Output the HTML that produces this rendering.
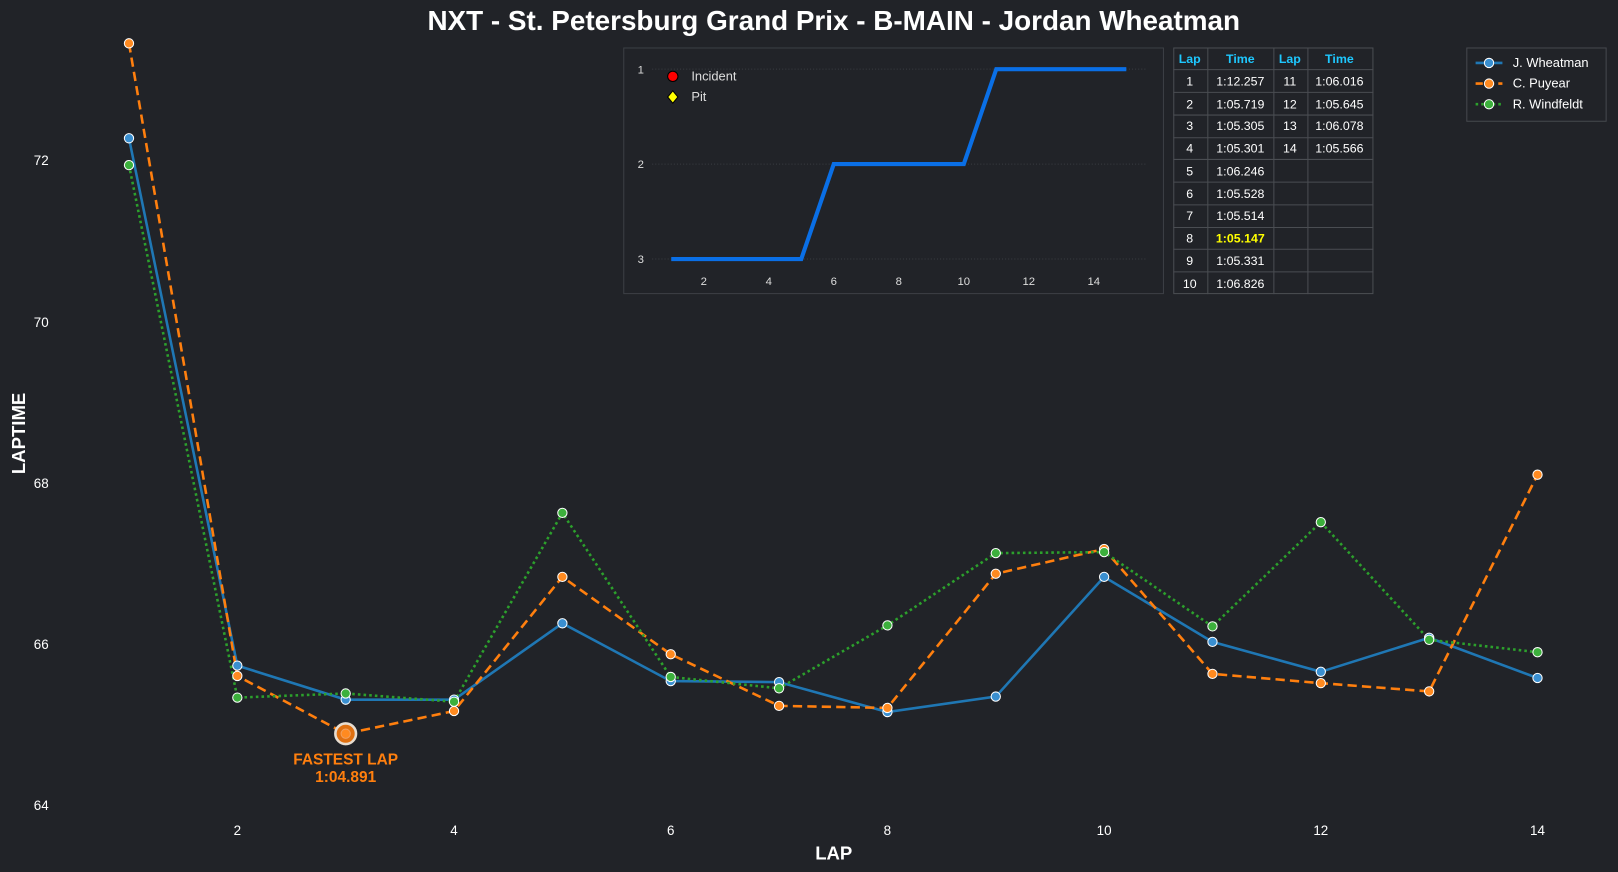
<!DOCTYPE html>
<html><head><meta charset="utf-8"><style>
html,body{margin:0;padding:0;background:#212328;}
svg{display:block;font-family:"Liberation Sans",Arial,sans-serif;}
</style></head><body>
<svg width="1618" height="872" viewBox="0 0 1568 845" preserveAspectRatio="none" xmlns="http://www.w3.org/2000/svg">
<rect width="1568" height="845" fill="#212328"/>
<text x="808" y="29" text-anchor="middle" fill="#fff" font-size="27" font-weight="bold">NXT - St. Petersburg Grand Prix - B-MAIN - Jordan Wheatman</text>
<text transform="translate(24,420) rotate(-90)" text-anchor="middle" fill="#fff" font-size="18" font-weight="bold">LAPTIME</text>
<text x="808" y="833" text-anchor="middle" fill="#fff" font-size="18" font-weight="bold">LAP</text>
<g fill="#fff" font-size="13" text-anchor="middle">
<text x="40" y="160">72</text><text x="40" y="317">70</text><text x="40" y="473">68</text><text x="40" y="629">66</text><text x="40" y="785">64</text>
<text x="230" y="809">2</text><text x="440" y="809">4</text><text x="650" y="809">6</text><text x="860" y="809">8</text><text x="1070" y="809">10</text><text x="1280" y="809">12</text><text x="1490" y="809">14</text>
</g>
<g fill="none" stroke-width="2.5">
<polyline stroke="#1f77b4" points="125,134 230,645 335,678 440,678 545,604 650,660 755,661 860,690 965,675 1070,559 1175,622 1280,651 1385,618 1490,657"/>
<polyline stroke="#ff7f0e" stroke-dasharray="9,5" points="125,42 230,655 335,711 440,689 545,559 650,634 755,684 860,686 965,556 1070,532 1175,653 1280,662 1385,670 1490,460"/>
<polyline stroke="#2ca02c" stroke-dasharray="2.5,3" points="125,160 230,676 335,672 440,680 545,497 650,656 755,667 860,606 965,536 1070,535 1175,607 1280,506 1385,620 1490,632"/>
</g>
<g stroke="#fff" stroke-width="1">
<g fill="#3a8fd0">
<circle cx="125" cy="134" r="4.5"/><circle cx="230" cy="645" r="4.5"/><circle cx="335" cy="678" r="4.5"/><circle cx="440" cy="678" r="4.5"/><circle cx="545" cy="604" r="4.5"/><circle cx="650" cy="660" r="4.5"/><circle cx="755" cy="661" r="4.5"/><circle cx="860" cy="690" r="4.5"/><circle cx="965" cy="675" r="4.5"/><circle cx="1070" cy="559" r="4.5"/><circle cx="1175" cy="622" r="4.5"/><circle cx="1280" cy="651" r="4.5"/><circle cx="1385" cy="618" r="4.5"/><circle cx="1490" cy="657" r="4.5"/></g>
<g fill="#ff8a20">
<circle cx="125" cy="42" r="4.5"/><circle cx="230" cy="655" r="4.5"/><circle cx="440" cy="689" r="4.5"/><circle cx="545" cy="559" r="4.5"/><circle cx="650" cy="634" r="4.5"/><circle cx="755" cy="684" r="4.5"/><circle cx="860" cy="686" r="4.5"/><circle cx="965" cy="556" r="4.5"/><circle cx="1070" cy="532" r="4.5"/><circle cx="1175" cy="653" r="4.5"/><circle cx="1280" cy="662" r="4.5"/><circle cx="1385" cy="670" r="4.5"/><circle cx="1490" cy="460" r="4.5"/></g>
<g fill="#3cb03c">
<circle cx="125" cy="160" r="4.5"/><circle cx="230" cy="676" r="4.5"/><circle cx="335" cy="672" r="4.5"/><circle cx="440" cy="680" r="4.5"/><circle cx="545" cy="497" r="4.5"/><circle cx="650" cy="656" r="4.5"/><circle cx="755" cy="667" r="4.5"/><circle cx="860" cy="606" r="4.5"/><circle cx="965" cy="536" r="4.5"/><circle cx="1070" cy="535" r="4.5"/><circle cx="1175" cy="607" r="4.5"/><circle cx="1280" cy="506" r="4.5"/><circle cx="1385" cy="620" r="4.5"/><circle cx="1490" cy="632" r="4.5"/></g>
</g>
<circle cx="335" cy="711" r="10" fill="#e07010" stroke="#e8ddd0" stroke-width="2.5"/>
<circle cx="335" cy="711" r="4.5" fill="#ff8a20" stroke="#f0a060" stroke-width="1"/>
<text x="335" y="741" text-anchor="middle" fill="#ff7f0e" font-size="15" font-weight="bold">FASTEST LAP</text>
<text x="335" y="758" text-anchor="middle" fill="#ff7f0e" font-size="15" font-weight="bold">1:04.891</text>

<rect x="604.5" y="46.5" width="523" height="238" fill="#212328" stroke="#3c3f45"/>
<g stroke="#3a3d42" stroke-dasharray="1,2" stroke-width="1">
<line x1="632" y1="67" x2="1112" y2="67"/><line x1="632" y1="159" x2="1112" y2="159"/><line x1="632" y1="251" x2="1112" y2="251"/></g>
<g fill="#ddd" font-size="11" text-anchor="middle">
<text x="621" y="71">1</text><text x="621" y="163">2</text><text x="621" y="255">3</text>
<text x="682" y="276">2</text><text x="745" y="276">4</text><text x="808" y="276">6</text><text x="871" y="276">8</text><text x="934" y="276">10</text><text x="997" y="276">12</text><text x="1060" y="276">14</text></g>
<polyline fill="none" stroke="#0a6fe6" stroke-width="4" points="650.5,251 776.5,251 808,159 934,159 965.5,67 1091.5,67"/>
<circle cx="652" cy="74" r="5" fill="#f00" stroke="#000" stroke-width="1"/>
<path d="M652,88 L657,94 L652,100 L647,94Z" fill="#ff0" stroke="#000" stroke-width="1"/>
<text x="670" y="78" fill="#ddd" font-size="12.5">Incident</text>
<text x="670" y="98" fill="#ddd" font-size="12.5">Pit</text>

<g stroke="#4a4d52" stroke-width="1" fill="none">
<rect x="1137.5" y="46.5" width="193" height="238"/>
<line x1="1170.5" y1="46" x2="1170.5" y2="285"/><line x1="1234.5" y1="46" x2="1234.5" y2="285"/><line x1="1267.5" y1="46" x2="1267.5" y2="285"/>
<line x1="1137" y1="67.5" x2="1331" y2="67.5"/><line x1="1137" y1="89.5" x2="1331" y2="89.5"/><line x1="1137" y1="111.5" x2="1331" y2="111.5"/><line x1="1137" y1="133.5" x2="1331" y2="133.5"/><line x1="1137" y1="154.5" x2="1331" y2="154.5"/><line x1="1137" y1="176.5" x2="1331" y2="176.5"/><line x1="1137" y1="198.5" x2="1331" y2="198.5"/><line x1="1137" y1="220.5" x2="1331" y2="220.5"/><line x1="1137" y1="241.5" x2="1331" y2="241.5"/><line x1="1137" y1="263.5" x2="1331" y2="263.5"/>
</g>
<g font-size="12" text-anchor="middle">
<g fill="#1ec8ff" font-weight="bold"><text x="1153" y="61">Lap</text><text x="1202" y="61">Time</text><text x="1250" y="61">Lap</text><text x="1298" y="61">Time</text></g>
<g fill="#fff">
<text x="1153" y="83">1</text><text x="1202" y="83">1:12.257</text><text x="1250" y="83">11</text><text x="1298" y="83">1:06.016</text>
<text x="1153" y="105">2</text><text x="1202" y="105">1:05.719</text><text x="1250" y="105">12</text><text x="1298" y="105">1:05.645</text>
<text x="1153" y="126">3</text><text x="1202" y="126">1:05.305</text><text x="1250" y="126">13</text><text x="1298" y="126">1:06.078</text>
<text x="1153" y="148">4</text><text x="1202" y="148">1:05.301</text><text x="1250" y="148">14</text><text x="1298" y="148">1:05.566</text>
<text x="1153" y="170">5</text><text x="1202" y="170">1:06.246</text>
<text x="1153" y="192">6</text><text x="1202" y="192">1:05.528</text>
<text x="1153" y="213">7</text><text x="1202" y="213">1:05.514</text>
<text x="1153" y="235">8</text><text x="1202" y="235" fill="#ffff00" font-weight="bold">1:05.147</text>
<text x="1153" y="257">9</text><text x="1202" y="257">1:05.331</text>
<text x="1153" y="279">10</text><text x="1202" y="279">1:06.826</text>
</g></g>

<rect x="1421.5" y="46.5" width="135" height="71" fill="#212328" stroke="#45484d"/>
<line x1="1430" y1="61" x2="1456" y2="61" stroke="#1f77b4" stroke-width="2.5"/><circle cx="1443" cy="61" r="4.5" fill="#3a8fd0" stroke="#fff"/>
<line x1="1430" y1="81" x2="1456" y2="81" stroke="#ff7f0e" stroke-width="2.5" stroke-dasharray="7,4"/><circle cx="1443" cy="81" r="4.5" fill="#ff8a20" stroke="#fff"/>
<line x1="1430" y1="101" x2="1456" y2="101" stroke="#2ca02c" stroke-width="2.5" stroke-dasharray="2.5,3"/><circle cx="1443" cy="101" r="4.5" fill="#3cb03c" stroke="#fff"/>
<g fill="#fff" font-size="12.5"><text x="1466" y="65">J. Wheatman</text><text x="1466" y="85">C. Puyear</text><text x="1466" y="105">R. Windfeldt</text></g>
</svg>
</body></html>
